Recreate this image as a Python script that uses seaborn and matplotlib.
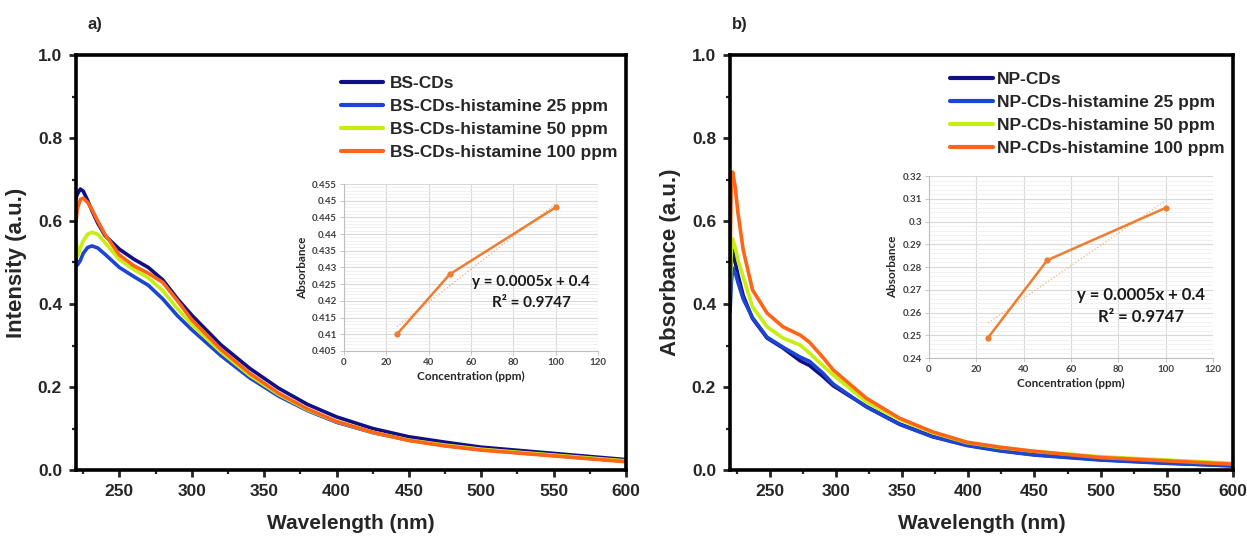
import numpy as np
import pandas as pd
import seaborn as sns
import matplotlib.pyplot as plt
from matplotlib.ticker import MultipleLocator, AutoMinorLocator, FuncFormatter

sns.set_style("ticks")
plt.rcParams['font.family'] = ['Liberation Sans', 'DejaVu Sans']
plt.rcParams['font.weight'] = 'bold'
plt.rcParams['axes.labelweight'] = 'bold'

# ---- panel a) spectra (BS-CDs) ----
wl_bs = [220, 221, 223, 225, 228, 231, 235, 240, 250, 260, 270, 280, 290, 300,
         320, 340, 360, 380, 400, 425, 450, 475, 500, 550, 600]
bs_cds = [0.655, 0.665, 0.677, 0.672, 0.650, 0.625, 0.595, 0.565, 0.532, 0.508, 0.488, 0.458,
          0.413, 0.373, 0.302, 0.245, 0.197, 0.158, 0.128, 0.100, 0.080, 0.067, 0.055, 0.040, 0.025]
bs_25 = [0.510, 0.494, 0.505, 0.522, 0.536, 0.540, 0.535, 0.520, 0.488, 0.466, 0.445, 0.412,
         0.372, 0.338, 0.276, 0.222, 0.178, 0.143, 0.115, 0.090, 0.072, 0.059, 0.049, 0.035, 0.021]
bs_50 = [0.560, 0.515, 0.535, 0.552, 0.568, 0.573, 0.568, 0.548, 0.507, 0.483, 0.463, 0.432,
         0.389, 0.350, 0.285, 0.228, 0.182, 0.145, 0.117, 0.091, 0.072, 0.060, 0.050, 0.036, 0.022]
bs_100 = [0.598, 0.630, 0.652, 0.655, 0.645, 0.628, 0.600, 0.568, 0.518, 0.492, 0.474, 0.452,
          0.408, 0.362, 0.291, 0.233, 0.185, 0.147, 0.117, 0.091, 0.071, 0.058, 0.048, 0.034, 0.020]

# ---- panel b) spectra (NP-CDs) ----
wl_np = [220, 221, 222, 224, 226, 230, 237, 248, 260, 273, 280, 290, 298, 323, 348,
         373, 399, 424, 450, 500, 550, 600]
np_cds = [0.420, 0.500, 0.530, 0.500, 0.470, 0.420, 0.365, 0.318, 0.294, 0.263, 0.252, 0.226,
          0.203, 0.153, 0.111, 0.081, 0.060, 0.047, 0.037, 0.025, 0.017, 0.010]
np_25 = [0.380, 0.450, 0.487, 0.475, 0.452, 0.412, 0.367, 0.320, 0.296, 0.272, 0.262, 0.234,
         0.207, 0.152, 0.110, 0.080, 0.059, 0.046, 0.036, 0.024, 0.016, 0.010]
np_50 = [0.420, 0.530, 0.557, 0.535, 0.505, 0.465, 0.393, 0.345, 0.318, 0.301, 0.282, 0.252,
         0.229, 0.164, 0.122, 0.090, 0.066, 0.054, 0.045, 0.032, 0.024, 0.016]
np_100 = [0.500, 0.690, 0.718, 0.680, 0.620, 0.530, 0.434, 0.378, 0.345, 0.325, 0.308, 0.272,
          0.241, 0.173, 0.125, 0.092, 0.067, 0.055, 0.045, 0.030, 0.022, 0.014]

labels_bs = ["BS-CDs", "BS-CDs-histamine 25 ppm", "BS-CDs-histamine 50 ppm", "BS-CDs-histamine 100 ppm"]
labels_np = ["NP-CDs", "NP-CDs-histamine 25 ppm", "NP-CDs-histamine 50 ppm", "NP-CDs-histamine 100 ppm"]
colors = ["#110f86", "#1c46d0", "#c6ee10", "#ff6417"]

# ---- insets: calibration ----
conc = [25, 50, 100]
abs_bs = [0.410, 0.428, 0.448]
abs_np = [0.249, 0.283, 0.306]
eq_text = "y = 0.0005x + 0.4"
r2_text = "R² = 0.9747"
inset_orange = "#ed7d31"

fig = plt.figure(figsize=(12.47, 5.37), dpi=100)
W, H = 1247, 537


def fig_box(x0, y0, x1, y1):
    return [x0 / W, 1 - y1 / H, (x1 - x0) / W, (y1 - y0) / H]


def style_main(ax, ylabel):
    ax.set_xlim(220, 600)
    ax.set_ylim(0, 1.0)
    ax.xaxis.set_major_locator(MultipleLocator(50))
    ax.xaxis.set_minor_locator(MultipleLocator(25))
    ax.yaxis.set_major_locator(MultipleLocator(0.2))
    ax.yaxis.set_minor_locator(MultipleLocator(0.1))
    ax.yaxis.set_major_formatter(FuncFormatter(lambda v, p: f"{v:.1f}"))
    ax.tick_params(which='major', direction='out', length=5, width=2, labelsize=12.5, pad=5)
    ax.tick_params(which='minor', direction='out', length=3, width=1.6)
    for sp in ax.spines.values():
        sp.set_linewidth(2.6)
        sp.set_color('black')
    ax.set_xlabel("Wavelength (nm)", fontsize=15, labelpad=11)
    ax.set_ylabel(ylabel, fontsize=16, labelpad=8)


def style_inset(ax, ylim, ystep):
    ax.set_xlim(0, 120)
    ax.set_ylim(*ylim)
    ax.xaxis.set_major_locator(MultipleLocator(20))
    ax.yaxis.set_major_locator(MultipleLocator(ystep))
    ax.yaxis.set_minor_locator(AutoMinorLocator(5))
    ax.yaxis.set_major_formatter(FuncFormatter(lambda v, p: f"{round(v, 4):g}"))
    ax.grid(which='major', color='#d9d9d9', lw=0.8)
    ax.grid(which='minor', axis='y', color='#efefef', lw=0.6)
    ax.set_axisbelow(True)
    for s in ['top', 'right']:
        ax.spines[s].set_visible(False)
    for s in ['left', 'bottom']:
        ax.spines[s].set_color('#bfbfbf')
        ax.spines[s].set_linewidth(0.8)
    ax.tick_params(which='major', length=3, width=0.6, color='#bfbfbf',
                   labelsize=7, labelcolor='#404040', pad=2)
    ax.tick_params(which='minor', length=0)
    for t in ax.get_xticklabels() + ax.get_yticklabels():
        t.set_family(['Lato', 'DejaVu Sans'])
    ax.set_xlabel("Concentration (ppm)", fontsize=8.5, family=['Lato', 'DejaVu Sans'], color='#262626', labelpad=3)
    ax.set_ylabel("Absorbance", fontsize=8.5, family=['Lato', 'DejaVu Sans'], color='#262626', labelpad=3)


def draw_panel(box, wl, series, labels, ylabel, leg_anchor, handle_len, text_pad):
    ax = fig.add_axes(box)
    for vals, lab, col in zip(series, labels, colors):
        sns.lineplot(x=wl, y=vals, color=col, lw=2.6, label=lab, ax=ax, sort=False)
    style_main(ax, ylabel)
    leg = ax.legend(loc='upper left', bbox_to_anchor=leg_anchor, bbox_transform=fig.transFigure,
                    frameon=False, fontsize=12.5, handlelength=handle_len, handletextpad=text_pad,
                    labelspacing=0.45, borderpad=0, borderaxespad=0)
    for h in leg.legend_handles:
        h.set_linewidth(3)
    return ax


def draw_inset(box, absb, ylim, ystep, eq_pos, r2_pos, eq_size):
    ax = fig.add_axes(box)
    sns.regplot(x=conc, y=absb, scatter=False, ci=None, truncate=True, ax=ax,
                line_kws=dict(color='#f4b183', lw=0.9, ls=':'))
    sns.lineplot(x=conc, y=absb, color=inset_orange, lw=1.8, marker='o', markersize=4.5,
                 markeredgewidth=0, ax=ax)
    style_inset(ax, ylim, ystep)
    ax.text(*eq_pos, eq_text, transform=ax.transAxes, ha='center', va='center',
            fontsize=eq_size, fontweight='bold', family=['Lato', 'DejaVu Sans'], color='#1a1a1a')
    ax.text(*r2_pos, r2_text, transform=ax.transAxes, ha='center', va='center',
            fontsize=eq_size, fontweight='bold', family=['Lato', 'DejaVu Sans'], color='#1a1a1a')
    return ax


draw_panel(fig_box(76, 55, 626, 470), wl_bs, [bs_cds, bs_25, bs_50, bs_100], labels_bs,
           "Intensity (a.u.)", (341 / W, 1 - 76 / H), 2.4, 0.4)
draw_panel(fig_box(730, 55, 1233, 470), wl_np, [np_cds, np_25, np_50, np_100], labels_np,
           "Absorbance (a.u.)", (950 / W, 1 - 72 / H), 2.5, 0.2)

draw_inset(fig_box(344, 184, 598, 351), abs_bs, (0.405, 0.455), 0.005,
           (0.736, 0.413), (0.736, 0.287), 11)
draw_inset(fig_box(929, 176, 1213, 358), abs_np, (0.24, 0.32), 0.01,
           (0.747, 0.346), (0.747, 0.225), 12)

fig.text(95 / W, 1 - 25 / H, "a)", fontsize=12, fontweight='bold', ha='center', va='center')
fig.text(740 / W, 1 - 25 / H, "b)", fontsize=12, fontweight='bold', ha='center', va='center')

fig.savefig("out.png", dpi=100)
